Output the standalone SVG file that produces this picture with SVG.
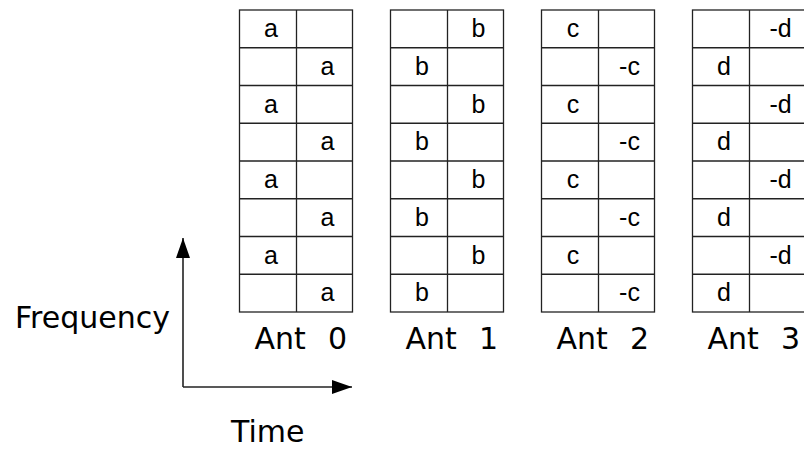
<svg xmlns="http://www.w3.org/2000/svg" width="804" height="449" viewBox="0 0 804 449">
<style>
.grid{fill:#fff;stroke:#222;stroke-width:1.3}
.gl{stroke:#222;stroke-width:1.3}
.cell{font-family:"Liberation Sans",Arial,sans-serif;font-size:25px;fill:#000;text-anchor:middle}
.lbl{font-family:"DejaVu Sans",Verdana,sans-serif;font-size:30px;fill:#000}
.axis{stroke:#222;stroke-width:1.6;fill:none}
</style>
<defs>
<marker id="ah" viewBox="0 0 20 14" refX="20" refY="7" markerWidth="20" markerHeight="14" markerUnits="userSpaceOnUse" orient="auto">
<path d="M0,0 L20,7 L0,14 Z" fill="#000"/>
</marker>
<g id="rows">
<line class="gl" x1="0" y1="47.75" x2="113" y2="47.75"/>
<line class="gl" x1="0" y1="85.5" x2="113" y2="85.5"/>
<line class="gl" x1="0" y1="123.25" x2="113" y2="123.25"/>
<line class="gl" x1="0" y1="161" x2="113" y2="161"/>
<line class="gl" x1="0" y1="198.75" x2="113" y2="198.75"/>
<line class="gl" x1="0" y1="236.5" x2="113" y2="236.5"/>
<line class="gl" x1="0" y1="274.25" x2="113" y2="274.25"/>
<line class="gl" x1="57" y1="10" x2="57" y2="312"/>
</g>
</defs>
<rect width="804" height="449" fill="#fff"/>

<g id="ant0" transform="translate(239.5,0)">
<rect class="grid" x="0" y="10" width="113" height="302"/>
<use href="#rows"/>
<text class="cell" x="31.5" y="37">a</text>
<text class="cell" x="88" y="74.75">a</text>
<text class="cell" x="31.5" y="112.5">a</text>
<text class="cell" x="88" y="150.25">a</text>
<text class="cell" x="31.5" y="188">a</text>
<text class="cell" x="88" y="225.75">a</text>
<text class="cell" x="31.5" y="263.5">a</text>
<text class="cell" x="88" y="301.25">a</text>
<text class="lbl" x="15" y="349" xml:space="preserve">Ant  <tspan dx="3">0</tspan></text>
</g>

<g id="ant1" transform="translate(390.5,0)">
<rect class="grid" x="0" y="10" width="113" height="302"/>
<use href="#rows"/>
<text class="cell" x="88" y="37">b</text>
<text class="cell" x="31.5" y="74.75">b</text>
<text class="cell" x="88" y="112.5">b</text>
<text class="cell" x="31.5" y="150.25">b</text>
<text class="cell" x="88" y="188">b</text>
<text class="cell" x="31.5" y="225.75">b</text>
<text class="cell" x="88" y="263.5">b</text>
<text class="cell" x="31.5" y="301.25">b</text>
<text class="lbl" x="15" y="349" xml:space="preserve">Ant  <tspan dx="3">1</tspan></text>
</g>

<g id="ant2" transform="translate(541.5,0)">
<rect class="grid" x="0" y="10" width="113" height="302"/>
<use href="#rows"/>
<text class="cell" x="31.5" y="37">c</text>
<text class="cell" x="88" y="74.75">-c</text>
<text class="cell" x="31.5" y="112.5">c</text>
<text class="cell" x="88" y="150.25">-c</text>
<text class="cell" x="31.5" y="188">c</text>
<text class="cell" x="88" y="225.75">-c</text>
<text class="cell" x="31.5" y="263.5">c</text>
<text class="cell" x="88" y="301.25">-c</text>
<text class="lbl" x="15" y="349" xml:space="preserve">Ant  <tspan dx="3">2</tspan></text>
</g>

<g id="ant3" transform="translate(692.5,0)">
<rect class="grid" x="0" y="10" width="113" height="302"/>
<use href="#rows"/>
<text class="cell" x="88" y="37">-d</text>
<text class="cell" x="31.5" y="74.75">d</text>
<text class="cell" x="88" y="112.5">-d</text>
<text class="cell" x="31.5" y="150.25">d</text>
<text class="cell" x="88" y="188">-d</text>
<text class="cell" x="31.5" y="225.75">d</text>
<text class="cell" x="88" y="263.5">-d</text>
<text class="cell" x="31.5" y="301.25">d</text>
<text class="lbl" x="15" y="349" xml:space="preserve">Ant  <tspan dx="3">3</tspan></text>
</g>

<g id="connectors">
<path class="axis" d="M183,387 L183,238" marker-end="url(#ah)"/>
<path class="axis" d="M183,387 L352,387" marker-end="url(#ah)"/>
</g>

<g id="labels">
<text class="lbl" x="15" y="328">Frequency</text>
<text class="lbl" x="231" y="442">Time</text>
</g>
</svg>
